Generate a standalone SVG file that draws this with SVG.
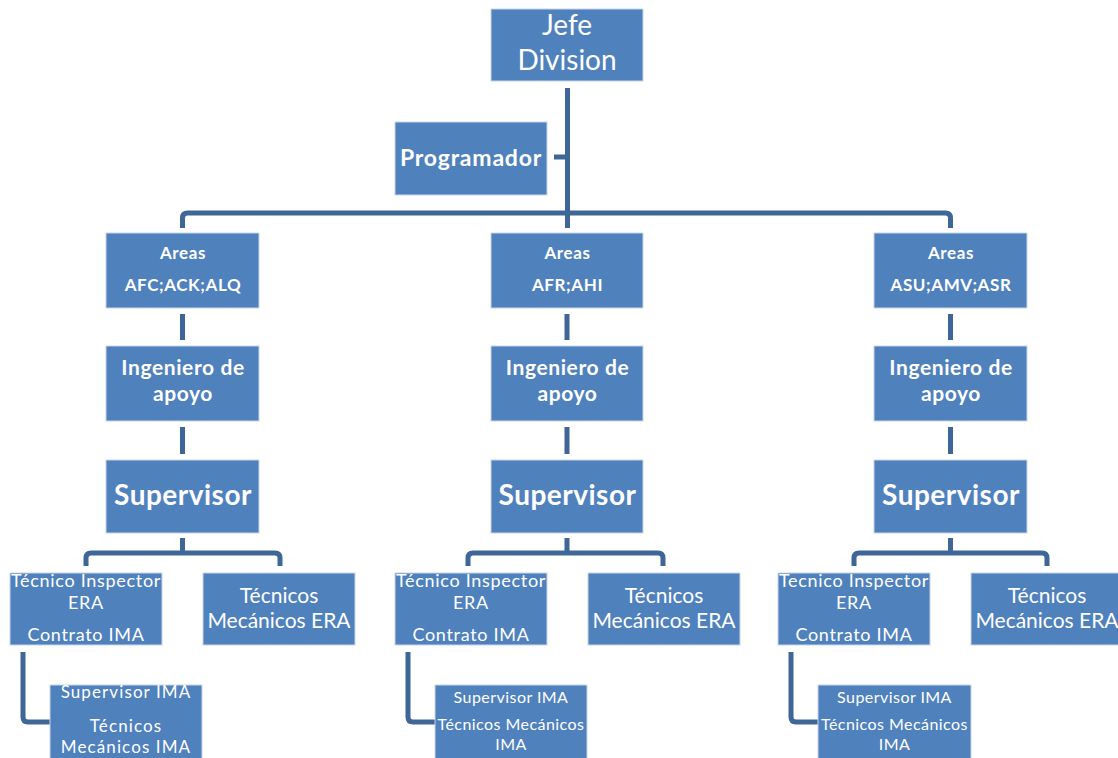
<svg xmlns="http://www.w3.org/2000/svg" width="1118" height="758" viewBox="0 0 1118 758">
<style>
.box{fill:#4F81BD;stroke:#C9D6E8;stroke-width:1}
.c{fill:none;stroke:#3E6797;stroke-width:5;stroke-linejoin:round}
text{font-family:Lato,"Open Sans","Liberation Sans",sans-serif;fill:#fff;text-anchor:middle}
.b{font-weight:bold}
.j{font-size:28px}
.p{font-size:23px;letter-spacing:0.8px}
.a{font-size:17px;letter-spacing:0.6px}
.i{font-size:21px;letter-spacing:0.6px}
.s{font-size:28px;letter-spacing:0.5px}
.t{font-size:18px;letter-spacing:0.7px}
.m{font-size:21px}
.k{font-size:17px;letter-spacing:1.1px}
.n{font-size:16px;letter-spacing:0.45px}
</style>
<rect width="1118" height="758" fill="#fff"/>
<g id="connectors" class="c">
<path d="M567.5,88 V228"/>
<path d="M554,157 H567.5"/>
<path d="M182.5,228 V218 Q182.5,213 187.5,213 H945.5 Q950.5,213 950.5,218 V228"/>
<path d="M182.5,314 V340 M567,314 V340 M950.5,314 V340"/>
<path d="M182.5,427 V454 M567,427 V454 M950.5,427 V454"/>
<path d="M182.5,538 V553 M86,566 V558 Q86,553 91,553 H275 Q280,553 280,558 V566"/>
<path d="M567,538 V553 M468,566 V558 Q468,553 473,553 H658 Q663,553 663,558 V566"/>
<path d="M950.5,538 V553 M854,566 V558 Q854,553 859,553 H1042 Q1047,553 1047,558 V566"/>
<path d="M23,652 V717 Q23,722 28,722 H50"/>
<path d="M408,652 V717 Q408,722 413,722 H435"/>
<path d="M791,652 V717 Q791,722 796,722 H818"/>
</g>
<g id="jefe"><rect class="box" x="491" y="9" width="152" height="72"/><text class="j" x="567" y="35">Jefe</text><text class="j" x="567" y="70">Division</text></g>
<g id="programador"><rect class="box" x="395" y="122" width="152" height="73"/><text class="b p" x="471" y="166">Programador</text></g>

<g id="areas1"><rect class="box" x="106" y="233" width="153" height="75"/><text class="b a" x="183" y="259">Areas</text><text class="b a" x="183" y="291">AFC;ACK;ALQ</text></g>
<g id="areas2"><rect class="box" x="491" y="233" width="152" height="75"/><text class="b a" x="567.5" y="259">Areas</text><text class="b a" x="567.5" y="291">AFR;AHI</text></g>
<g id="areas3"><rect class="box" x="874" y="233" width="153" height="75"/><text class="b a" x="951" y="259">Areas</text><text class="b a" x="951" y="291">ASU;AMV;ASR</text></g>

<g id="ing1"><rect class="box" x="106" y="346" width="153" height="75"/><text class="b i" x="183" y="375">Ingeniero de</text><text class="b i" x="183" y="401">apoyo</text></g>
<g id="ing2"><rect class="box" x="491" y="346" width="152" height="75"/><text class="b i" x="567.5" y="375">Ingeniero de</text><text class="b i" x="567.5" y="401">apoyo</text></g>
<g id="ing3"><rect class="box" x="874" y="346" width="153" height="75"/><text class="b i" x="951" y="375">Ingeniero de</text><text class="b i" x="951" y="401">apoyo</text></g>

<g id="sup1"><rect class="box" x="106" y="460" width="153" height="73"/><text class="b s" x="183" y="505">Supervisor</text></g>
<g id="sup2"><rect class="box" x="491" y="460" width="152" height="73"/><text class="b s" x="567.5" y="505">Supervisor</text></g>
<g id="sup3"><rect class="box" x="874" y="460" width="153" height="73"/><text class="b s" x="951" y="505">Supervisor</text></g>

<g id="insp1"><rect class="box" x="10" y="573" width="152" height="72"/><text class="t" x="86" y="587">Técnico Inspector</text><text class="t" x="86" y="609">ERA</text><text class="t" x="86" y="641">Contrato IMA</text></g>
<g id="insp2"><rect class="box" x="395" y="573" width="152" height="72"/><text class="t" x="471" y="587">Técnico Inspector</text><text class="t" x="471" y="609">ERA</text><text class="t" x="471" y="641">Contrato IMA</text></g>
<g id="insp3"><rect class="box" x="778" y="573" width="152" height="72"/><text class="t" x="854" y="587">Tecnico Inspector</text><text class="t" x="854" y="609">ERA</text><text class="t" x="854" y="641">Contrato IMA</text></g>

<g id="mec1"><rect class="box" x="203" y="573" width="152" height="72"/><text class="m" x="279" y="603">Técnicos</text><text class="m" x="279" y="628">Mecánicos ERA</text></g>
<g id="mec2"><rect class="box" x="588" y="573" width="152" height="72"/><text class="m" x="664" y="603">Técnicos</text><text class="m" x="664" y="628">Mecánicos ERA</text></g>
<g id="mec3"><rect class="box" x="971" y="573" width="152" height="72"/><text class="m" x="1047" y="603">Técnicos</text><text class="m" x="1047" y="628">Mecánicos ERA</text></g>

<g id="ima1"><rect class="box" x="50" y="685" width="152" height="80"/><text class="k" x="126" y="698">Supervisor IMA</text><text class="k" x="126" y="732">Técnicos</text><text class="k" x="126" y="753">Mecánicos IMA</text></g>
<g id="ima2"><rect class="box" x="435" y="685" width="152" height="80"/><text class="n" x="511" y="703">Supervisor IMA</text><text class="n" x="511" y="730">Técnicos Mecánicos</text><text class="n" x="511" y="750">IMA</text></g>
<g id="ima3"><rect class="box" x="818" y="685" width="153" height="80"/><text class="n" x="894.5" y="703">Supervisor IMA</text><text class="n" x="894.5" y="730">Técnicos Mecánicos</text><text class="n" x="894.5" y="750">IMA</text></g>
</svg>
